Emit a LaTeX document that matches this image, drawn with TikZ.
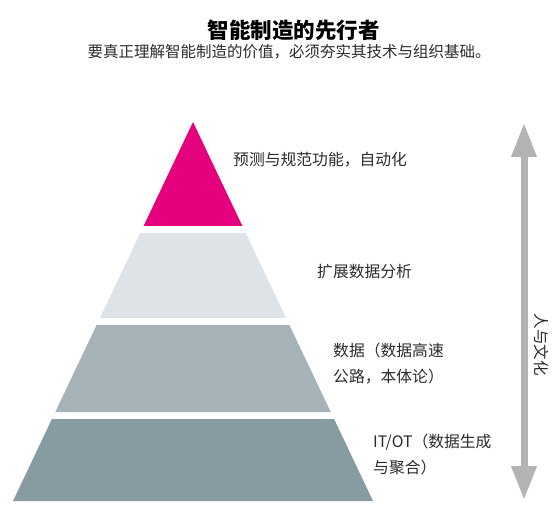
\documentclass[tikz,border=0pt]{standalone}
\usepackage{fontspec}
\setmainfont{Noto Sans CJK SC}
\usetikzlibrary{arrows.meta}
\definecolor{topc}{HTML}{E5007E}
\definecolor{lay2}{HTML}{DEE3E7}
\definecolor{lay3}{HTML}{A6B4BA}
\definecolor{lay4}{HTML}{869CA2}
\definecolor{arrc}{HTML}{B3B3B3}
\definecolor{txt}{HTML}{2B2B2B}
\begin{document}
\begin{tikzpicture}[x=1pt,y=-1pt,
  lbl/.style={anchor=west,inner sep=0pt,font=\fontsize{15.8}{26}\selectfont,text=txt,align=left},
  ttl/.style={inner sep=0pt,font=\fontsize{21.5}{24}\selectfont\bfseries,text=black},
  sub/.style={inner sep=0pt,font=\fontsize{15.5}{18}\selectfont,text=txt}]
\useasboundingbox (0,0) rectangle (554,526);
% pyramid layers
\fill[topc] (193,122) -- (242.4,226) -- (143.6,226) -- cycle;
\fill[lay2] (140.3,233) -- (245.7,233) -- (286.1,318) -- (99.9,318) -- cycle;
\fill[lay3] (96.6,325) -- (289.4,325) -- (330.75,412) -- (55.25,412) -- cycle;
\fill[lay4] (51.9,419) -- (334.1,419) -- (373,501) -- (13,501) -- cycle;
% titles
\node[ttl] (title) at (293.5,30) {智能制造的先行者};
\node[sub] (subtitle) at (289,52) {要真正理解智能制造的价值，必须夯实其技术与组织基础。};
% labels
\node[lbl] (l1) at (233,160) {预测与规范功能，自动化};
\node[lbl] (l2) at (317,272) {扩展数据分析};
\node[lbl,anchor=north west] (l3) at (333,343) {数据（数据高速\\公路，本体论）};
\node[lbl,anchor=north west] (l4) at (373,434) {IT/OT（数据生成\\与聚合）};
% side arrow
\coordinate (atop) at (524,123);
\coordinate (abot) at (524,500);
\draw[arrc,line width=7pt,{Triangle[length=34pt,width=24pt]}-{Triangle[length=34pt,width=24pt]}] (atop) -- (abot);
\node[sub,rotate=-90] (side) at (541,345) {人与文化};
\end{tikzpicture}
\end{document}
